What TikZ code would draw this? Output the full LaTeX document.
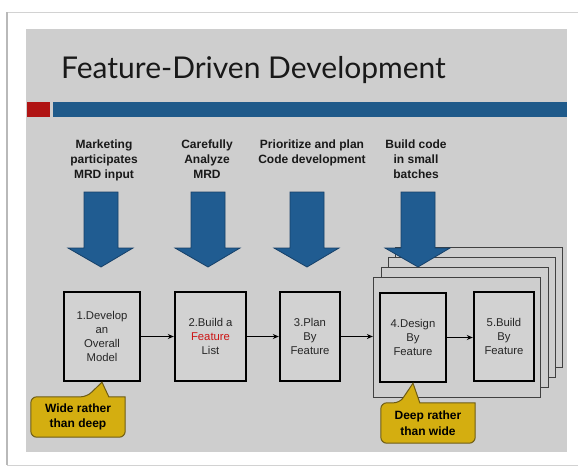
\documentclass[tikz,border=0pt]{standalone}
\usepackage{fontspec}
\setmainfont{Liberation Sans}
\newfontfamily\titlefont{Lato}
\usetikzlibrary{arrows.meta}
\definecolor{slidegray}{RGB}{206,206,206}
\definecolor{boxgray}{RGB}{210,210,210}
\definecolor{barblue}{RGB}{31,90,138}
\definecolor{arrowblue}{RGB}{32,92,145}
\definecolor{arrowedge}{RGB}{22,64,104}
\definecolor{barred}{RGB}{176,20,20}
\definecolor{callyellow}{RGB}{212,174,16}
\definecolor{calledge}{RGB}{110,92,20}
\definecolor{featred}{RGB}{204,20,20}
\pgfdeclarelayer{callshape}
\pgfdeclarelayer{calltext}
\pgfsetlayers{main,callshape,calltext}
\begin{document}
\begin{tikzpicture}[x=1pt,y=-1pt,
  stepbox/.style={draw=black, line width=2.4pt, fill=boxgray, minimum height=89pt,
    inner sep=0pt, align=center, font=\fontsize{11.3}{13.8}\selectfont, text=black!85},
  framebox/.style={draw=black!75, line width=1.3pt, fill=slidegray,
    minimum width=167pt, minimum height=120pt, inner sep=0pt},
  toplabel/.style={anchor=north, align=center, inner sep=0pt,
    font=\bfseries\fontsize{12}{15}\selectfont, text=black!90},
  conn/.style={draw=black, line width=1.8pt, -{Stealth[length=6pt,width=5pt]}},
  calloutshape/.style={fill=callyellow, draw=calledge, line width=1pt},
  callouttext/.style={minimum width=94pt, minimum height=40pt, inner sep=0pt, align=center,
    font=\bfseries\fontsize{12}{15.5}\selectfont, text=black},
  downarrow/.pic={\draw[fill=arrowblue, draw=arrowedge, line width=0.8pt]
    (-17,0) -- (17,0) -- (17,56) -- (32,56) -- (0,75) -- (-33,56) -- (-17,56) -- cycle;}
]
\useasboundingbox (0,0) rectangle (581,467);
% page frame
\fill[white] (0,0) rectangle (581,467);
\draw[gray!35, line width=1pt] (7,12) -- (578,12);
\draw[gray!35, line width=1pt] (7,465) -- (578,465);
\draw[gray!55, line width=2pt] (7,12) -- (7,465);
% slide
\fill[slidegray] (26,29) rectangle (567,452);
\fill[barred] (27,102) rectangle (50,117);
\fill[barblue] (53,102) rectangle (567,117);
\node[anchor=base west, inner sep=0pt, font=\titlefont\fontsize{30}{30}\selectfont, text=black!90]
  (title) at (61,78) {Feature-Driven Development};
% top labels
\node[toplabel] (l1) at (104,139.5) {Marketing\\participates\\MRD input};
\node[toplabel] (l2) at (207,139.5) {Carefully\\Analyze\\MRD};
\node[toplabel] (l3) at (312,139.5) {Prioritize and plan\\Code development};
\node[toplabel] (l4) at (416,139.5) {Build code\\in small\\batches};
% stacked frames
\node[framebox] (f4) at (479,307.5) {};
\node[framebox] (f3) at (472,317.5) {};
\node[framebox] (f2) at (465,327.5) {};
\node[framebox] (f1) at (457,337.5) {};
% step boxes
\node[stepbox, minimum width=76pt] (b1) at (102,336.5) {1.Develop\\an\\Overall\\Model};
\node[stepbox, minimum width=71pt] (b2) at (210.5,336.5) {2.Build a\\\textcolor{featred}{Feature}\\List};
\node[stepbox, minimum width=60pt] (b3) at (310,336.5) {3.Plan\\By\\Feature};
\node[stepbox, minimum width=66pt] (b4) at (413,337.5) {4.Design\\By\\Feature};
\node[stepbox, minimum width=60pt] (b5) at (504,336.5) {5.Build\\By\\Feature};
% block arrows
\pic at (101,192) {downarrow};
\pic at (208,192) {downarrow};
\pic at (307,192) {downarrow};
\pic at (418,192) {downarrow};
% connectors
\draw[conn] (b1.east) -- (b1.east -| b2.west);
\draw[conn] (b2.east) -- (b2.east -| b3.west);
\draw[conn] (b3.east) -- (b3.east -| f1.west);
\draw[conn] (b4.east) -- (b4.east -| b5.west);
% callouts
\begin{pgfonlayer}{calltext}
\node[callouttext] (c1) at (78,417) {Wide rather\\than deep};
\node[callouttext] (c2) at (428,423) {Deep rather\\than wide};
\end{pgfonlayer}
\begin{pgfonlayer}{callshape}
\draw[calloutshape] (c1.west) [rounded corners=6pt] -- (c1.north west) -- ([xshift=56pt]c1.north west)
  [sharp corners] -- (b1.south) -- ([xshift=78pt]c1.north west) -- (c1.north east)
  [rounded corners=6pt] -- (c1.south east) -- (c1.south west) -- cycle;
\draw[calloutshape] (c2.west) [rounded corners=6pt] -- (c2.north west) -- ([xshift=19pt]c2.north west)
  [sharp corners] -- (b4.south) -- ([xshift=39pt]c2.north west) -- (c2.north east)
  [rounded corners=6pt] -- (c2.south east) -- (c2.south west) -- cycle;
\end{pgfonlayer}
\end{tikzpicture}
\end{document}
